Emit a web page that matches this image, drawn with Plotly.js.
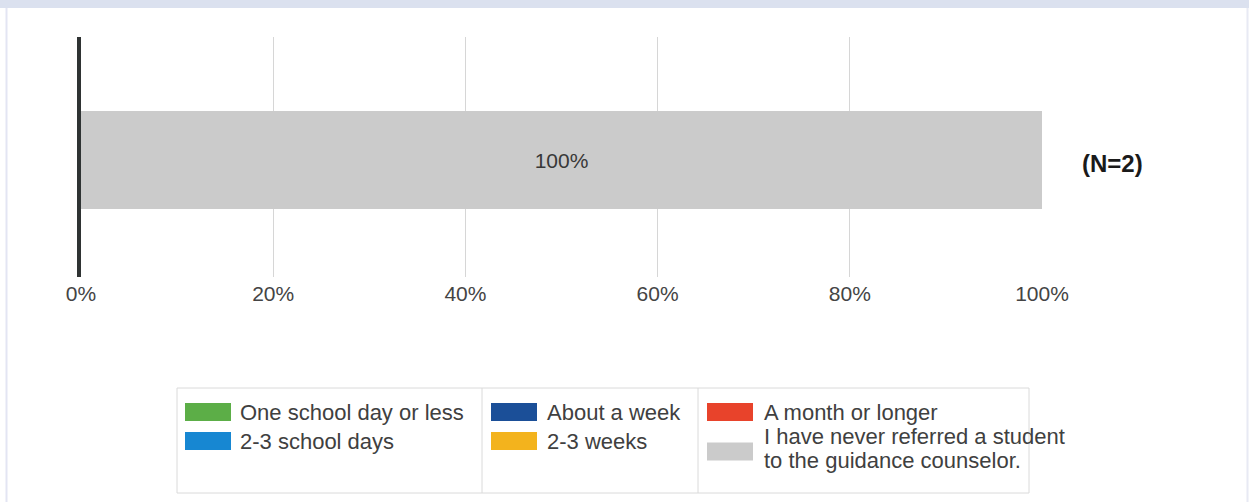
<!DOCTYPE html>
<html>
<head>
<meta charset="utf-8">
<script src="https://cdn.plot.ly/plotly-3.0.1.min.js"></script>
<style>
html,body{margin:0;padding:0;background:#fff;}
#chart{width:1249px;height:502px;}
</style>
</head>
<body>
<div id="chart"></div>
<script>
// ---- data ----
const categories = [
  'One school day or less',
  '2-3 school days',
  'About a week',
  '2-3 weeks',
  'A month or longer',
  'I have never referred a student<br>to the guidance counselor.'
];
const seriesColors = ['#5cae47', '#1787d2', '#1b4f98', '#f3b31d', '#e8432b', '#cbcbcb'];
const values = [0, 0, 0, 0, 0, 100];
const rowLabels = ['All'];
const nLabel = '(N=2)';
const tickVals = [0, 20, 40, 60, 80, 100];
const tickLabels = ['0%', '20%', '40%', '60%', '80%', '100%'];

// ---- layout helpers (pixel -> paper) ----
const W = 1249, H = 502;
const M = {l: 81, r: 207, t: 37, b: 225};
const PW = W - M.l - M.r, PH = H - M.t - M.b;
const px = x => (x - M.l) / PW;
const py = y => (H - M.b - y) / PH;
const FONT = 'Liberation Sans, Arial, sans-serif';

const traces = categories.map((c, i) => ({
  type: 'bar',
  orientation: 'h',
  name: c,
  x: [values[i]],
  y: [0],
  width: 0.81,
  marker: {color: seriesColors[i], line: {width: 0}},
  text: [values[i] > 0 ? values[i] + '%' : ''],
  textposition: 'inside',
  insidetextanchor: 'middle',
  textfont: {family: FONT, size: 21, color: '#383838'},
  hoverinfo: 'none',
  showlegend: false
}));

const shapes = [];
const annotations = [];

// page frame
shapes.push({type: 'rect', xref: 'paper', yref: 'paper', x0: px(0), x1: px(W), y0: py(8), y1: py(0), fillcolor: '#dbe1ef', line: {width: 0}, layer: 'below'});
shapes.push({type: 'line', xref: 'paper', yref: 'paper', x0: px(6.5), x1: px(6.5), y0: py(8), y1: py(H), line: {color: '#e3e5f3', width: 2}});
shapes.push({type: 'line', xref: 'paper', yref: 'paper', x0: px(1247.5), x1: px(1247.5), y0: py(8), y1: py(H), line: {color: '#e8eaf4', width: 2}});

// N label
annotations.push({xref: 'paper', yref: 'y', x: px(1112), y: -0.03, text: '<b>' + nLabel + '</b>', showarrow: false, xanchor: 'center', yanchor: 'middle', font: {family: FONT, size: 24, color: '#1a1a1a'}});

// legend box
const LB = {x0: 177, x1: 1029, y0: 388, y1: 493};
shapes.push({type: 'rect', xref: 'paper', yref: 'paper', x0: px(LB.x0), x1: px(LB.x1), y0: py(LB.y1), y1: py(LB.y0), line: {color: '#dadada', width: 1}, fillcolor: 'rgba(0,0,0,0)'});
[482, 698].forEach(xd => shapes.push({type: 'line', xref: 'paper', yref: 'paper', x0: px(xd), x1: px(xd), y0: py(LB.y1), y1: py(LB.y0), line: {color: '#dadada', width: 1}}));

const colSwatchX = [185, 491, 707];
const colTextX = [238, 545, 762];
const rowY = [412, 441];
const lineGap = 23;
categories.forEach((c, i) => {
  const col = Math.floor(i / 2), row = i % 2;
  const lines = c.split('<br>');
  const firstY = lines.length > 1 ? rowY[row] - 4 : rowY[row];
  const midY = firstY + (lines.length - 1) * lineGap / 2 + (lines.length > 1 ? 3 : 0);
  shapes.push({type: 'rect', xref: 'paper', yref: 'paper',
    x0: px(colSwatchX[col]), x1: px(colSwatchX[col] + 46),
    y0: py(midY + 9), y1: py(midY - 9),
    fillcolor: seriesColors[i], line: {width: 0}});
  lines.forEach((ln, k) => {
    annotations.push({xref: 'paper', yref: 'paper', x: px(colTextX[col]), y: py(firstY + k * lineGap),
      text: ln, showarrow: false, xanchor: 'left', yanchor: 'middle',
      font: {family: FONT, size: 22, color: '#404040'}});
  });
});

const layout = {
  width: W, height: H,
  margin: M,
  paper_bgcolor: '#ffffff',
  plot_bgcolor: '#ffffff',
  barmode: 'stack',
  showlegend: false,
  xaxis: {
    range: [0, 100],
    tickvals: tickVals,
    ticktext: tickLabels,
    showgrid: true,
    gridcolor: '#d6d6d6',
    gridwidth: 1,
    zeroline: false,
    showline: false,
    ticks: '',
    ticklabelstandoff: 2,
    tickfont: {family: FONT, size: 21, color: '#444444'},
    fixedrange: true
  },
  yaxis: {
    range: [-0.975, 1.025],
    tickvals: [0],
    ticktext: rowLabels,
    showticklabels: false,
    showgrid: false,
    zeroline: false,
    showline: true,
    linecolor: '#2f3333',
    linewidth: 4,
    fixedrange: true
  },
  shapes: shapes,
  annotations: annotations
};

Plotly.newPlot('chart', traces, layout, {displayModeBar: false, staticPlot: true});
</script>
</body>
</html>
